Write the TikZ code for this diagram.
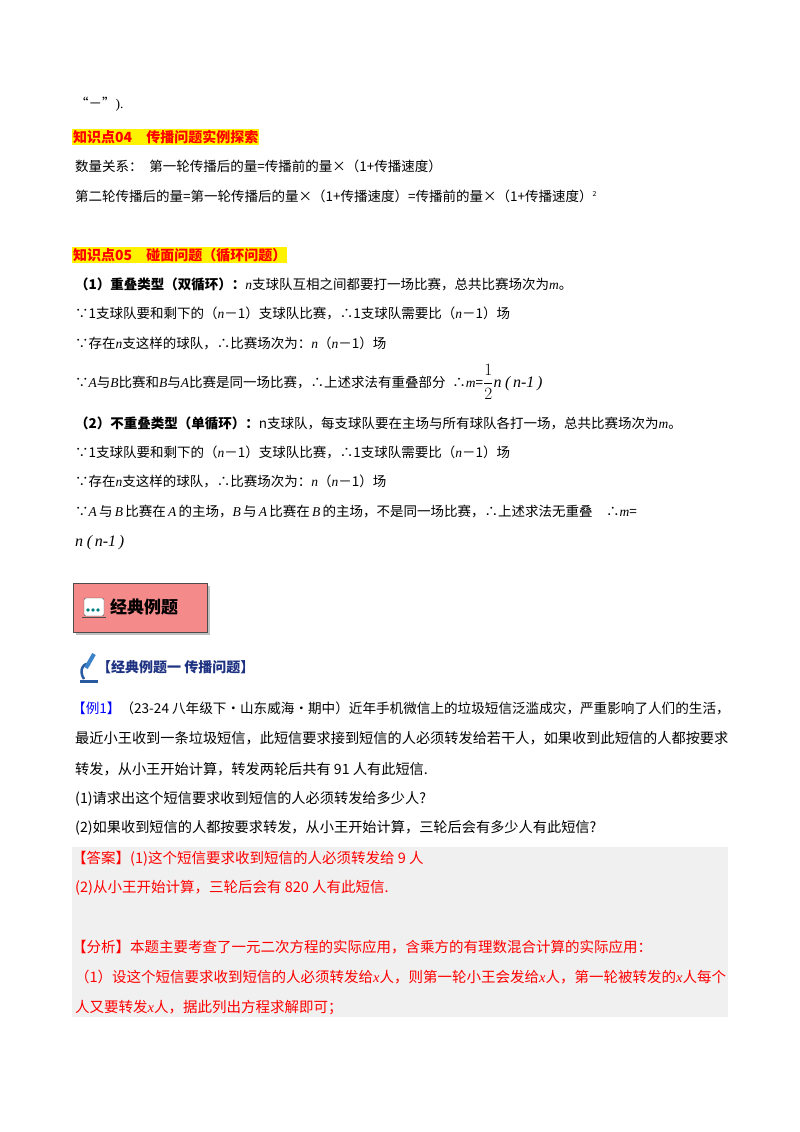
\documentclass[tikz,border=0pt]{standalone}
\usepackage{fontspec}
\setmainfont{Liberation Serif}
\newfontfamily\cjk{Noto Sans CJK SC}
\newcommand\mi[1]{{\rmfamily\itshape #1}}
\newcommand\rmn[1]{{\rmfamily #1}}
\definecolor{pinkbox}{RGB}{244,138,138}
\definecolor{msdark}{RGB}{40,90,160}
\definecolor{mslight}{RGB}{60,130,200}
\definecolor{exblue}{RGB}{30,50,130}
\begin{document}
\begin{tikzpicture}[x=1pt,y=-1pt,
  t/.style={anchor=west,inner sep=0pt,font=\fontsize{13.5}{15}\cjk},
  tb/.style={anchor=west,inner sep=0pt,font=\fontsize{14.2}{16}\cjk},
  hd/.style={anchor=west,inner sep=1pt,font=\fontsize{14}{15}\cjk\bfseries,text=red,fill=yellow},
  rd/.style={anchor=west,inner sep=0pt,font=\fontsize{14.5}{16}\cjk,text=red}]
\useasboundingbox (0,0) rectangle (800,1132);
\fill[white] (0,0) rectangle (800,1132);
\node[t] (l0) at (75,104) {“－”\rmn{).}};
\node[hd] (h4) at (72,137) {知识点04\quad 传播问题实例探索};
\node[t] (l1) at (75,166) {数量关系：\; 第一轮传播后的量=传播前的量×（1+传播速度）};
\node[t] (l2) at (75,196) {第二轮传播后的量=第一轮传播后的量×（1+传播速度）=传播前的量×（1+传播速度）\raisebox{5pt}{\fontsize{7}{8}\selectfont 2}};
\node[hd] (h5) at (72,255) {知识点05\quad 碰面问题（循环问题）};
\node[t] (a1) at (75,284) {\textbf{（1）重叠类型（双循环）：}\mi{n}支球队互相之间都要打一场比赛，总共比赛场次为\mi{m}。};
\node[t] (a2) at (75,313) {∵1支球队要和剩下的（\mi{n}－1）支球队比赛，∴1支球队需要比（\mi{n}－1）场};
\node[t] (a3) at (75,343) {∵存在\mi{n}支这样的球队，∴比赛场次为：\mi{n}（\mi{n}－1）场};
\node[t] (a4) at (75,382) {∵\mi{A}与\mi{B}比赛和\mi{B}与\mi{A}比赛是同一场比赛，∴上述求法有重叠部分\; ∴\mi{m}=\fontsize{16}{18}\selectfont$\displaystyle\frac{1}{2}$\mi{n}\ \mi{(\,n-1\,)}};
\node[t] (b1) at (75,423) {\textbf{（2）不重叠类型（单循环）：}n支球队，每支球队要在主场与所有球队各打一场，总共比赛场次为\mi{m}。};
\node[t] (b2) at (75,452) {∵1支球队要和剩下的（\mi{n}－1）支球队比赛，∴1支球队需要比（\mi{n}－1）场};
\node[t] (b3) at (75,481) {∵存在\mi{n}支这样的球队，∴比赛场次为：\mi{n}（\mi{n}－1）场};
\node[t] (b4) at (75,511) {∵\mi{A}\,与\,\mi{B}\,比赛在\,\mi{A}\,的主场，\mi{B}\,与\,\mi{A}\,比赛在\,\mi{B}\,的主场，不是同一场比赛，∴上述求法无重叠\quad ∴\mi{m}=};
\node[t] (b5) at (75,543) {\fontsize{16}{18}\selectfont\mi{n}\ \mi{(\,n-1\,)}};
% classic box
\fill[gray!50] (76,586) rectangle (210,635);
\draw[black!70,fill=pinkbox] (73,583) rectangle (207,632);
\node[anchor=west,inner sep=0pt,font=\fontsize{17}{18}\cjk\bfseries] (cl) at (110,607) {经典例题};
\draw[black!70,fill=white,rounded corners=2pt] (84,598) rectangle (104,616);
\foreach \i in {88,93,98} \fill[teal] (\i,610) circle (1.8);
\draw[black!70] (82,617) -- (106,617);
% microscope
\fill[msdark] (80,680) rectangle (98,683);
\draw[msdark,line width=2.5pt] (84,679) .. controls (78,670) and (84,662) .. (90,664);
\draw[mslight,line width=4pt] (86,668) -- (94,654);
\node[anchor=west,inner sep=0pt,font=\fontsize{14}{16}\cjk\bfseries,text=exblue] (ex) at (97,667) {【经典例题一\ 传播问题】};
\node[tb,font=\fontsize{13.6}{16}\cjk] (p1) at (72,708) {\textcolor{blue}{【例1】}（23-24 八年级下·山东威海·期中）近年手机微信上的垃圾短信泛滥成灾，严重影响了人们的生活，};
\node[tb] (p2) at (75,738) {最近小王收到一条垃圾短信，此短信要求接到短信的人必须转发给若干人，如果收到此短信的人都按要求};
\node[tb] (p3) at (75,769) {转发，从小王开始计算，转发两轮后共有 91 人有此短信.};
\node[tb] (p4) at (75,799) {(1)请求出这个短信要求收到短信的人必须转发给多少人?};
\node[tb] (p5) at (75,828) {(2)如果收到短信的人都按要求转发，从小王开始计算，三轮后会有多少人有此短信?};
\fill[black!6] (72,847) rectangle (728,1017);
\node[rd] (r1) at (72,859) {【答案】(1)这个短信要求收到短信的人必须转发给 9 人};
\node[rd] (r2) at (75,888) {(2)从小王开始计算，三轮后会有 820 人有此短信.};
\node[rd] (r3) at (72,947) {【分析】本题主要考查了一元二次方程的实际应用，含乘方的有理数混合计算的实际应用：};
\node[rd] (r4) at (75,977) {（1）设这个短信要求收到短信的人必须转发给\mi{x}人，则第一轮小王会发给\mi{x}人，第一轮被转发的\mi{x}人每个};
\node[rd] (r5) at (75,1008) {人又要转发\mi{x}人，据此列出方程求解即可；};
\end{tikzpicture}
\end{document}
